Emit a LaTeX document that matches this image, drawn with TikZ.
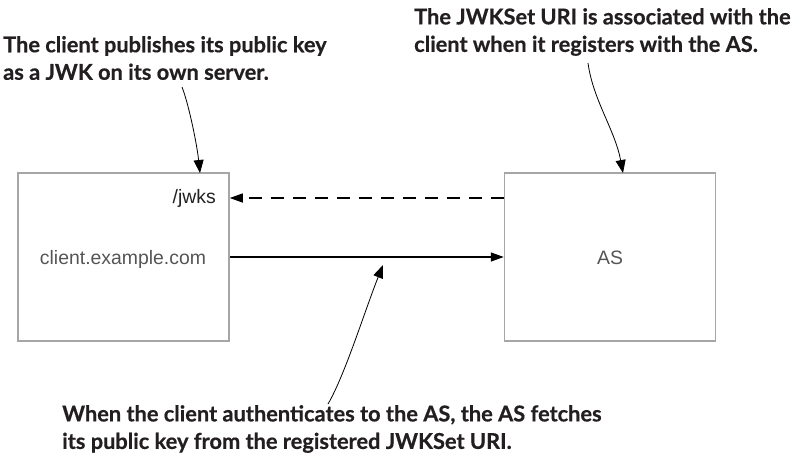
\documentclass[tikz,border=0pt]{standalone}
\usepackage{fontspec}
\setmainfont{Liberation Sans}
\newfontfamily\notefont[BoldFeatures={FakeBold=0.5}]{Lato}
\usetikzlibrary{arrows.meta}
\definecolor{boxgray}{HTML}{A6A6A6}
\definecolor{notecol}{HTML}{231F20}
\definecolor{lblgray}{HTML}{555555}
\definecolor{lbldark}{HTML}{222222}
\begin{document}
\begin{tikzpicture}[x=1pt,y=-1pt,
  box/.style={draw=boxgray, line width=1.5pt, minimum width=211pt, minimum height=168pt, inner sep=0pt},
  note/.style={font=\notefont\bfseries\fontsize{21.8}{27.5}\selectfont, align=left, inner sep=0pt, text=notecol, anchor=west},
  lbl/.style={font=\fontsize{19.4}{22}\selectfont, inner sep=0pt, text=lblgray},
  flow/.style={line width=1.3pt, -{Triangle[length=13pt,width=9pt]}},
  dflow/.style={flow, dash pattern=on 13pt off 9pt},
  callout/.style={line width=0.8pt, -{Triangle[length=13pt,width=10pt]}}
]
\useasboundingbox (0,0) rectangle (808,458);
\fill[white] (0,0) rectangle (808,458);

\node[box] (client) at (123.5,257) {};
\node[box] (as) at (610,257) {};

\node[lbl] (clientlbl) at (123,259) {client.example.com};
\node[lbl] (aslbl) at (610,258) {AS};
\node[lbl, text=lbldark, anchor=east] (jwks) at (216,198) {/jwks};

\draw[dflow] (as.west |- jwks.center) -- (client.east |- jwks.center);
\draw[flow] (client.east) -- (as.west);

\node[note] (n1) at (3,58) {The client publishes its public key\\as a JWK on its own server.};
\node[note] (n2) at (414,32) {The JWKSet URI is associated with the\\client when it registers with the AS.};
\node[note] (n3) at (62,429) {When the client authenticates to the AS, the AS fetches\\its public key from the registered JWKSet URI.};

\coordinate (c1s) at (182,87);
\coordinate (c1e) at (200,173);
\coordinate (c2s) at (588,63);
\coordinate (c2e) at (623,173);
\coordinate (c3s) at (328,404);
\coordinate (c3e) at (383,265);

\draw[callout] (c1s) .. controls (189,105) and (197,145) .. (c1e);
\draw[callout] (c2s) .. controls (593,100) and (615,130) .. (c2e);
\draw[callout] (c3s) .. controls (345,375) and (365,310) .. (c3e);
\end{tikzpicture}
\end{document}
